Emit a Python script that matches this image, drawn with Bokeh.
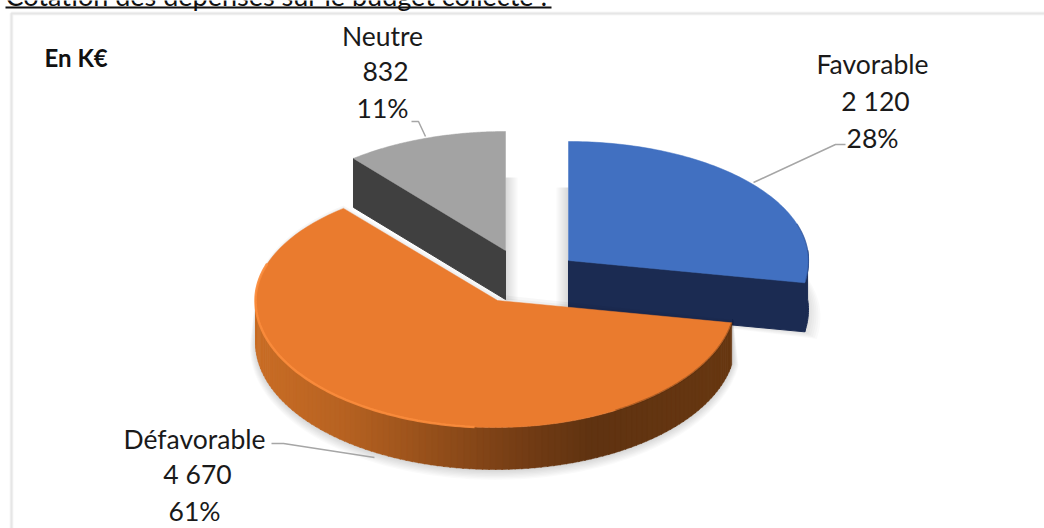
import numpy as np
from bokeh.core.properties import value
from bokeh.embed import file_html
from bokeh.models import ColumnDataSource, Range1d
from bokeh.plotting import figure
from bokeh.resources import INLINE

# Chart values
categories = ["Favorable", "Défavorable", "Neutre"]
amounts = [2120, 4670, 832]
amount_labels = ["2 120", "4 670", "832"]
percent_labels = ["28%", "61%", "11%"]
title_text = "Cotation des dépenses sur le budget collecté :"
unit_text = "En K€"

FONT = "Lato"
WIDTH, HEIGHT = 1044, 528

# Slice layout in pixels: apex position, radii and extrusion height
SLICES = {
    "Favorable": dict(cx=568, cy=260, depth=49, top="#4170c1", wall="#1b2b52"),
    "Défavorable": dict(cx=495, cy=300, depth=42, top="#ea7b2e", wall="#5e3210"),
    "Neutre": dict(cx=505, cy=250, depth=49, top="#a3a3a3", wall="#404040"),
}
RX, RY_BACK, RY_FRONT = 240, 119, 127

# Angles run clockwise from twelve o'clock and follow the amounts
total = sum(amounts)
edges = np.concatenate([[0.0], np.cumsum(amounts) / total * 360.0])
spans = {c: (edges[i], edges[i + 1]) for i, c in enumerate(categories)}


def rim(c, a0, a1, drop=0.0, n=90, grow=0.0):
    s = SLICES[c]
    t = np.radians(np.linspace(a0, a1, n))
    ry = np.where(np.cos(t) > 0, RY_BACK, RY_FRONT) + grow
    return s["cx"] + (RX + grow) * np.sin(t), s["cy"] - ry * np.cos(t) + drop


p = figure(
    width=WIDTH, height=HEIGHT, output_backend="svg", toolbar_location=None,
    x_range=Range1d(0, WIDTH), y_range=Range1d(HEIGHT, 0),
    min_border=0, outline_line_color=None, background_fill_color="white",
)
p.axis.visible = False
p.grid.visible = False

# Frame of the chart area
for width, alpha in [(4, 0.35), (2, 0.9)]:
    p.line([11, 11, WIDTH], [HEIGHT, 13, 13], line_color="#e4e4e4", line_width=width, line_alpha=alpha)

# Soft shadows behind the detached slices
n0, n1 = spans["Neutre"]
f0, f1 = spans["Favorable"]
for k in range(2, 13, 2):
    s = SLICES["Neutre"]
    p.patch([s["cx"], s["cx"] + k, s["cx"] + k, s["cx"]], [s["cy"] - 73, s["cy"] - 73, s["cy"] + 50, s["cy"] + 50],
            fill_color="black", fill_alpha=0.022, line_color=None)
    s = SLICES["Favorable"]
    p.patch([s["cx"], s["cx"] - k, s["cx"] - k, s["cx"]], [s["cy"] - 73, s["cy"] - 73, s["cy"] + 47, s["cy"] + 47],
            fill_color="black", fill_alpha=0.022, line_color=None)
    rx_, ry_ = rim("Favorable", 70, f1, drop=s["depth"], grow=0)
    p.patch(list(rx_ + k) + [s["cx"]], list(ry_ + k * 0.6) + [s["cy"] + s["depth"]],
            fill_color="black", fill_alpha=0.018, line_color=None)

# Neutre: cut wall and top face
s = SLICES["Neutre"]
tx, ty = rim("Neutre", n0, n0, n=2)
p.patch([tx[0], s["cx"], s["cx"], tx[0]], [ty[0], s["cy"], s["cy"] + s["depth"], ty[0] + s["depth"]],
        fill_color=s["wall"], line_color=s["wall"])
ax, ay = rim("Neutre", n0, n1)
p.patch(list(ax) + [s["cx"]], list(ay) + [s["cy"]], fill_color=s["top"], line_color=s["top"], line_width=0.5)

# Favorable: cut wall and top face
s = SLICES["Favorable"]
tx, ty = rim("Favorable", f1, f1, n=2)
p.patch([s["cx"], tx[0], tx[0], s["cx"]], [s["cy"], ty[0], ty[0] + s["depth"], s["cy"] + s["depth"]],
        fill_color=s["wall"], line_color=s["wall"])
bx, by = rim("Favorable", 85, f1, drop=s["depth"], n=20)
mx, my = rim("Favorable", 85, f1, n=20)
p.patch(list(mx) + list(bx[::-1]), list(my) + list(by[::-1]), fill_color=s["wall"], line_color=s["wall"])
ax, ay = rim("Favorable", f0, f1)
p.patch(list(ax) + [s["cx"]], list(ay) + [s["cy"]], fill_color=s["top"], line_color=s["top"], line_width=0.5)
p.line(*rim("Favorable", 72, f1 - 1), line_color="#2c4f92", line_width=1.2, line_alpha=0.6)

# Défavorable: shadow, shaded outer wall and top face
d0, d1 = spans["Défavorable"]
s = SLICES["Défavorable"]
for k in range(1, 9):
    gx, gy = rim("Défavorable", d0 - 2, 272, drop=s["depth"] + k * 0.6, grow=k * 0.7)
    hx, hy = rim("Défavorable", d0 - 2, 272)
    p.patch(list(gx) + list(hx[::-1]), list(gy) + list(hy[::-1]),
            fill_color="black", fill_alpha=0.018, line_color=None)
ex, ey = rim("Défavorable", d0, d1)
for k in (3, 6):
    p.patch(list(ex + 0) + [s["cx"] + 2], list(ey - k * 0.5) + [s["cy"] - k], fill_color="black", fill_alpha=0.03, line_color=None)

# Wall shading is keyed on horizontal position across the pie
shade_x = [254, 340, 430, 510, 590, 735]
shade_r = [0xca, 0xb8, 0x96, 0x78, 0x60, 0x68]
shade_g = [0x6e, 0x63, 0x50, 0x3f, 0x33, 0x38]
shade_b = [0x26, 0x22, 0x1b, 0x16, 0x11, 0x12]
strip_edges = np.linspace(d0, 272, 111)
strips_x, strips_y, strip_colors = [], [], []
for a0, a1 in zip(strip_edges[:-1], strip_edges[1:]):
    ux, uy = rim("Défavorable", a0, a1 + 0.3, n=5)
    lx, ly = rim("Défavorable", a0, a1 + 0.3, drop=s["depth"], n=5)
    strips_x.append(list(ux) + list(lx[::-1]))
    strips_y.append(list(uy) + list(ly[::-1]))
    mid = ux.mean()
    strip_colors.append("#%02x%02x%02x" % (
        int(np.interp(mid, shade_x, shade_r)),
        int(np.interp(mid, shade_x, shade_g)),
        int(np.interp(mid, shade_x, shade_b)),
    ))
p.patches(strips_x, strips_y, fill_color=strip_colors, line_color=strip_colors, line_width=0.5)

ax, ay = rim("Défavorable", d0, d1)
p.patch(list(ax) + [s["cx"] + 2], list(ay) + [s["cy"]], fill_color=s["top"], line_color=s["top"], line_width=0.5)

# Bevel highlight along the front edge of the top face
p.line(*rim("Défavorable", 185, 288), line_color="#fb8c3c", line_width=2.5, line_alpha=0.9)
p.line(*rim("Défavorable", d0, 150), line_color="#4a2608", line_width=2, line_alpha=0.35)

# Leader lines from the labels to the slices
leaders = [
    ([845, 835, 753], [144, 144, 182]),
    ([271, 283, 374], [443, 443, 457]),
    ([411, 418, 425], [121, 121, 136]),
]
for lx, ly in leaders:
    p.line(lx, ly, line_color="#a6a6a6", line_width=1.5)

# Three-line data labels
label_x = {"Favorable": [872, 875, 872], "Défavorable": [194, 197, 194], "Neutre": [382, 385, 382]}
label_y = {"Favorable": [63, 100, 137], "Défavorable": [438, 473, 510], "Neutre": [35, 71, 107]}
texts, xs, ys = [], [], []
for i, c in enumerate(categories):
    texts += [c, amount_labels[i], percent_labels[i]]
    xs += label_x[c]
    ys += label_y[c]
src = ColumnDataSource(dict(x=xs, y=ys, t=texts))
p.text("x", "y", text="t", source=src, text_font=value(FONT), text_font_size="26.5px",
       text_align="center", text_baseline="middle", text_color="#1a1a1a")

# Unit note and the underlined heading cut by the top edge
p.text([44], [57], text=[unit_text], text_font=value(FONT), text_font_size="24px", text_font_style="bold",
       text_baseline="middle", text_color="#111111")
p.text([5], [-5], text=[title_text], text_font=value(FONT), text_font_size="27px",
       text_baseline="alphabetic", text_color="#111111")
p.line([5, 551], [7, 7], line_color="#111111", line_width=2)

open("out.html", "w").write(file_html(p, INLINE))
